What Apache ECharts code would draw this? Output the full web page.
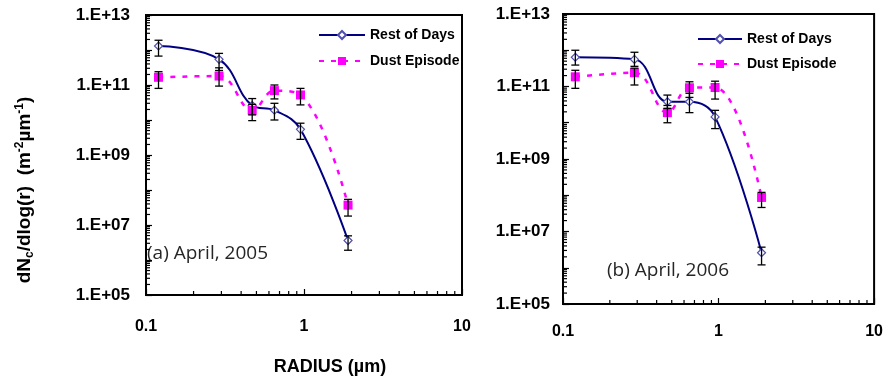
<!DOCTYPE html>
<html><head><meta charset="utf-8">
<script src="https://cdn.jsdelivr.net/npm/echarts@6/dist/echarts.min.js"></script>
<style>html,body{margin:0;padding:0;background:#fff}#c{width:886px;height:382px}</style>
</head><body><div id="c"></div>
<script>
// ---- data ----
const radiusA = [0.12, 0.29, 0.47, 0.65, 0.95, 1.9];
const restA = [1.3e12, 5.4e11, 2.6e10, 1.9e10, 5.4e9, 3.6e6];
const dustA = [1.66e11, 1.8e11, 1.9e10, 6.9e10, 5.2e10, 3.7e7];
const restA_lo = [6.7e11, 2.6e11, 1.4e10, 1.0e10, 2.8e9, 1.9e6];
const restA_hi = [1.9e12, 8.0e11, 4.1e10, 3.0e10, 8.1e9, 4.9e6];
const dustA_lo = [8.0e10, 9.3e10, 9.6e9, 4.0e10, 2.7e10, 1.8e7];
const dustA_hi = [2.4e11, 3.1e11, 2.8e10, 1.0e11, 8.0e10, 5.4e7];

const radiusB = [0.12, 0.288, 0.469, 0.65, 0.95, 1.89];
const restB = [6.4e11, 5.6e11, 3.8e10, 3.8e10, 1.45e10, 2.6e6];
const dustB = [1.85e11, 2.4e11, 1.9e10, 9.2e10, 9.4e10, 8.7e7];
const restB_lo = [3.9e11, 3.6e11, 2.5e10, 1.9e10, 6.9e9, 1.2e6];
const restB_hi = [1.0e12, 8.8e11, 5.8e10, 6.5e10, 2.2e10, 3.7e6];
const dustB_lo = [8.9e10, 1.1e11, 1.0e10, 5.0e10, 4.5e10, 4.6e7];
const dustB_hi = [2.8e11, 3.2e11, 3.0e10, 1.35e11, 1.4e11, 1.2e8];

const seriesNames = ['Rest of Days', 'Dust Episode'];
const panelLabels = ['(a) April, 2005', '(b) April, 2006'];
const xTickLabels = {'-1': '0.1', '0': '1', '1': '10'};
const yTickLabels = {'5': '1.E+05', '7': '1.E+07', '9': '1.E+09', '11': '1.E+11', '13': '1.E+13'};
const xDecades = [0.1, 1];
const yDecades = [1e5, 1e6, 1e7, 1e8, 1e9, 1e10, 1e11, 1e12];
const minorMult = [2, 3, 4, 5, 6, 7, 8, 9];
const xTitle = 'RADIUS (µm)';

// ---- helpers ----
const pts = (xs, ys) => xs.map((x, i) => [x, ys[i]]);
const errs = (xs, lo, hi) => xs.map((x, i) => [x, lo[i], hi[i]]);
const xMinor = []; xDecades.forEach(d => minorMult.forEach(m => xMinor.push(d * m)));
const yMinor = []; yDecades.forEach(d => minorMult.forEach(m => yMinor.push(d * m)));

function errRender(params, api) {
  const x = api.value(0), lo = api.value(1), hi = api.value(2);
  const a = api.coord([x, hi]), b = api.coord([x, lo]);
  const w = 4, st = {stroke: '#000', lineWidth: 1.3};
  return {type: 'group', children: [
    {type: 'line', shape: {x1: a[0], y1: a[1], x2: b[0], y2: b[1]}, style: st},
    {type: 'line', shape: {x1: a[0] - w, y1: a[1], x2: a[0] + w, y2: a[1]}, style: st},
    {type: 'line', shape: {x1: b[0] - w, y1: b[1], x2: b[0] + w, y2: b[1]}, style: st}
  ]};
}
function tickRender(params, api) {
  const dir = api.value(2);
  const p = api.coord([api.value(0), api.value(1)]);
  const len = 4;
  const shape = dir === 0 ? {x1: p[0], y1: p[1], x2: p[0] + len, y2: p[1]}
                          : {x1: p[0], y1: p[1], x2: p[0], y2: p[1] - len};
  return {type: 'line', shape, style: {stroke: '#000', lineWidth: 1.2}};
}
const tickData = [].concat(yMinor.map(v => [0.1, v, 0]), xMinor.map(v => [v, 1e5, 1]));

const font = 'Liberation Sans, Arial, sans-serif';
function xAxis(gi, margin) {
  return {type: 'log', gridIndex: gi, min: 0.1, max: 10, logBase: 10,
    axisLine: {show: true, lineStyle: {color: '#000', width: 2}},
    axisTick: {show: true, inside: true, length: 6, lineStyle: {color: '#000', width: 1.2}},
    splitLine: {show: false},
    axisLabel: {margin, color: '#000', fontSize: 16, fontWeight: 'bold', fontFamily: font,
      formatter: v => xTickLabels[String(Math.round(Math.log10(v)))] || ''}};
}
function yAxis(gi, margin) {
  return {type: 'log', gridIndex: gi, min: 1e5, max: 1e13, logBase: 10,
    axisLine: {show: true, lineStyle: {color: '#000', width: 2}},
    axisTick: {show: true, inside: true, length: 6, lineStyle: {color: '#000', width: 1.2}},
    splitLine: {show: false},
    axisLabel: {margin, color: '#000', fontSize: 17, fontWeight: 'bold', fontFamily: font,
      formatter: v => yTickLabels[String(Math.round(Math.log10(v)))] || ''}};
}
function lineSeries(gi, name, data) {
  const rest = name === seriesNames[0];
  return {type: 'line', name, xAxisIndex: gi, yAxisIndex: gi, data, smooth: 0.4,
    symbol: rest ? 'diamond' : 'rect', symbolSize: rest ? 8 : 9, showSymbol: true,
    itemStyle: rest ? {color: '#ffffff', borderColor: '#5050b0', borderWidth: 1.2}
                    : {color: '#ff00ff', borderColor: '#ff00ff', borderWidth: 0},
    lineStyle: rest ? {color: '#000080', width: 2} : {color: '#ff00ff', width: 2.5, type: [5, 7]},
    z: 3, animation: false};
}
function errSeries(gi, name, data) {
  return {type: 'custom', name: name + ' err', xAxisIndex: gi, yAxisIndex: gi, data,
    renderItem: errRender, encode: {x: 0, y: [1, 2]}, z: 4, silent: true, animation: false};
}
function tickSeries(gi) {
  return {type: 'custom', xAxisIndex: gi, yAxisIndex: gi, data: tickData, clip: false,
    renderItem: tickRender, encode: {x: 0, y: 1}, z: 5, silent: true, animation: false};
}
const legendText = {color: '#000', fontSize: 14, fontWeight: 'bold', fontFamily: font};

const option = {
  animation: false,
  backgroundColor: '#fff',
  grid: [
    {left: 146, top: 15, width: 316, height: 280, show: true, borderColor: '#000', borderWidth: 2},
    {left: 563, top: 14, width: 314, height: 290, show: true, borderColor: '#000', borderWidth: 2}
  ],
  xAxis: [xAxis(0, 24), xAxis(1, 20)],
  yAxis: [yAxis(0, 16), yAxis(1, 13)],
  legend: [
    {orient: 'vertical', left: 313, top: 23, itemWidth: 46, itemHeight: 10, itemGap: 12,
     data: seriesNames, textStyle: legendText, selectedMode: false},
    {orient: 'vertical', left: 692, top: 27, itemWidth: 44, itemHeight: 10, itemGap: 11,
     data: seriesNames, textStyle: legendText, selectedMode: false}
  ],
  series: [
    lineSeries(0, seriesNames[0], pts(radiusA, restA)),
    lineSeries(0, seriesNames[1], pts(radiusA, dustA)),
    errSeries(0, seriesNames[0], errs(radiusA, restA_lo, restA_hi)),
    errSeries(0, seriesNames[1], errs(radiusA, dustA_lo, dustA_hi)),
    tickSeries(0),
    lineSeries(1, seriesNames[0], pts(radiusB, restB)),
    lineSeries(1, seriesNames[1], pts(radiusB, dustB)),
    errSeries(1, seriesNames[0], errs(radiusB, restB_lo, restB_hi)),
    errSeries(1, seriesNames[1], errs(radiusB, dustB_lo, dustB_hi)),
    tickSeries(1)
  ],
  graphic: [
    {type: 'text', left: 147, top: 244, silent: true,
     style: {text: panelLabels[0], fill: '#262626', font: '19px "Open Sans", "Noto Sans", sans-serif'}},
    {type: 'text', left: 607, top: 261, silent: true,
     style: {text: panelLabels[1], fill: '#262626', font: '19px "Open Sans", "Noto Sans", sans-serif'}},
    {type: 'text', x: 330, y: 367, silent: true,
     style: {text: xTitle, fill: '#000', font: 'bold 18px "Liberation Sans", Arial, sans-serif',
             align: 'center', verticalAlign: 'middle'}},
    {type: 'text', x: 25, y: 190, rotation: Math.PI / 2, silent: true,
     style: {text: 'dN{sub|c}/dlog(r)  (m{sup|-2}µm{sup|-1})', fill: '#000',
             font: 'bold 19px "Liberation Sans", Arial, sans-serif',
             align: 'center', verticalAlign: 'middle', lineHeight: 22,
             rich: {
               sub: {fontSize: 12, fontWeight: 'bold', fontFamily: font, fill: '#000', verticalAlign: 'bottom', lineHeight: 22},
               sup: {fontSize: 12, fontWeight: 'bold', fontFamily: font, fill: '#000', verticalAlign: 'top', lineHeight: 22}
             }}}
  ]
};
const chart = echarts.init(document.getElementById('c'), null, {renderer: 'canvas'});
chart.setOption(option);
</script></body></html>
